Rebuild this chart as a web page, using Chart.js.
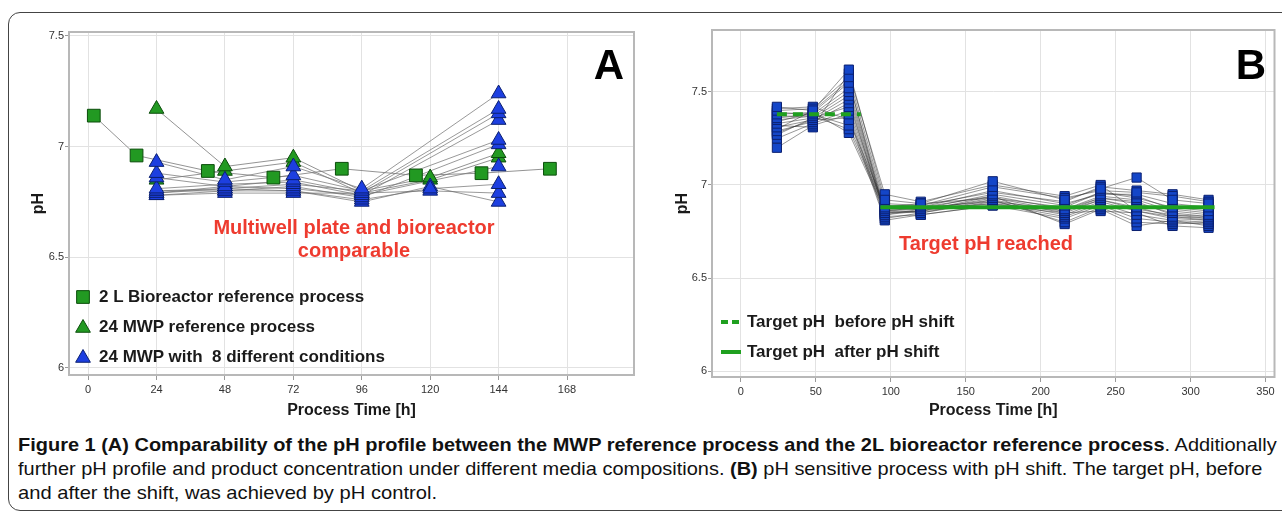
<!DOCTYPE html>
<html>
<head>
<meta charset="utf-8">
<script src="https://cdn.jsdelivr.net/npm/chart.js@4.4.1/dist/chart.umd.min.js"></script>
<style>
  html, body { margin: 0; padding: 0; background: #fff; }
  body { width: 1282px; height: 519px; position: relative; overflow: hidden; font-family: 'Liberation Sans', Arial, sans-serif; }
  #frame { position: absolute; left: 8px; top: 12px; width: 1290px; height: 499px; border: 1px solid #444; border-radius: 12px; box-sizing: border-box; }
  canvas { position: absolute; }
  #chartA { left: 20px; top: 20px; }
  #chartB { left: 660px; top: 20px; }
  .lbl { position: absolute; white-space: nowrap; transform: translateY(-50%); font-weight: bold; color: #1a1a1a; font-size: 17px; }
  .red { position: absolute; white-space: nowrap; transform: translate(-50%, -50%); font-weight: bold; color: #ee3b2f; font-size: 20px; }
  .big { position: absolute; transform: translate(-50%, -50%); font-weight: bold; font-size: 42px; color: #000; }
  .cap { position: absolute; left: 18px; white-space: nowrap; transform-origin: 0 50%; font-family: 'Liberation Sans Narrow', 'Liberation Sans', Arial, sans-serif; font-size: 19px; line-height: 22px; color: #111; }
</style>
</head>
<body>
<div id="frame"></div>
<canvas id="chartA" width="630" height="400"></canvas>
<canvas id="chartB" width="622" height="400"></canvas>

<div class="big" style="left:609px; top:65px">A</div>
<div class="big" style="left:1251px; top:65px">B</div>

<div class="red" style="left:354px; top:227px">Multiwell plate and bioreactor</div>
<div class="red" style="left:354px; top:250px">comparable</div>
<div class="red" style="left:986px; top:243px">Target pH reached</div>

<div class="lbl" style="left:99px; top:297px">2 L Bioreactor reference process</div>
<div class="lbl" style="left:99px; top:327px">24 MWP reference process</div>
<div class="lbl" style="left:99px; top:357px">24 MWP with&nbsp; 8 different conditions</div>
<div class="lbl" style="left:747px; top:322px">Target pH&nbsp; before pH shift</div>
<div class="lbl" style="left:747px; top:352px">Target pH&nbsp; after pH shift</div>

<div class="cap" id="cap1" style="top:434px"><b>Figure 1 (A) Comparability of the pH profile between the MWP reference process and the 2L bioreactor reference process</b>. Additionally</div>
<div class="cap" id="cap2" style="top:458px">further pH profile and product concentration under different media compositions. <b>(B)</b> pH sensitive process with pH shift. The target pH, before</div>
<div class="cap" id="cap3" style="top:482px">and after the shift, was achieved by pH control.</div>

<script>
//Panel A: pH en MWP y biorreactor 2 L
const timesA = [24, 48, 72, 96, 120, 144];
const bioreactorTime = [2, 17, 42, 65, 89, 115, 138, 162];
const bioreactorPH = [7.14, 6.96, 6.89, 6.86, 6.90, 6.87, 6.88, 6.90];
const mwpRefPH = [
    [7.17, 6.91, 6.95, 6.80, 6.86, 6.97],
    [6.85, 6.89, 6.93, 6.79, 6.85, 6.95]
];
const mwpCondPH = [
    [6.93, 6.85, 6.91, 6.81, null, 7.24],
    [6.88, 6.84, 6.87, 6.80, null, 7.17],
    [6.86, 6.82, 6.85, 6.79, null, 7.15],
    [6.81, 6.83, 6.84, 6.78, null, 7.12],
    [6.80, 6.81, 6.83, 6.80, null, 7.03],
    [6.80, 6.80, 6.82, 6.77, null, 7.01],
    [6.79, 6.82, 6.81, 6.78, null, 6.91],
    [6.78, 6.80, 6.80, 6.76, 6.81, 6.83],
    [6.78, 6.79, 6.79, 6.79, 6.80, 6.79],
    [6.79, 6.81, 6.80, 6.75, 6.82, 6.75]
];
const xTicksA = [0, 24, 48, 72, 96, 120, 144, 168];

//Panel B: proceso con cambio de pH
const timesB = [24, 48, 72, 96, 120, 168, 216, 240, 264, 288, 312];
const runsB = [
    [7.42, 7.40, 7.62, 6.92, 6.90, 7.02, 6.92, 6.98, 7.04, 6.92, 6.90],
    [7.40, 7.41, 7.58, 6.90, 6.89, 6.99, 6.93, 6.97, 6.96, 6.94, 6.91],
    [7.38, 7.39, 7.55, 6.88, 6.88, 6.97, 6.90, 6.95, 6.95, 6.90, 6.88],
    [7.36, 7.38, 7.52, 6.87, 6.87, 6.95, 6.89, 6.96, 6.93, 6.88, 6.86],
    [7.35, 7.37, 7.50, 6.86, 6.88, 6.94, 6.87, 6.94, 6.92, 6.86, 6.84],
    [7.33, 7.36, 7.48, 6.85, 6.86, 6.93, 6.86, 6.93, 6.90, 6.85, 6.83],
    [7.31, 7.35, 7.46, 6.84, 6.87, 6.92, 6.85, 6.92, 6.88, 6.83, 6.82],
    [7.29, 7.34, 7.44, 6.86, 6.85, 6.91, 6.84, 6.91, 6.86, 6.82, 6.81],
    [7.27, 7.36, 7.42, 6.85, 6.86, 6.90, 6.83, 6.90, 6.84, 6.81, 6.80],
    [7.25, 7.33, 7.40, 6.83, 6.84, 6.89, 6.82, 6.89, 6.82, 6.80, 6.79],
    [7.20, 7.32, 7.38, 6.82, 6.85, 6.92, 6.80, 6.88, 6.80, 6.79, 6.80],
    [7.41, 7.42, 7.35, 6.89, 6.89, 6.96, 6.91, 6.99, 6.97, 6.95, 6.92],
    [7.39, 7.38, 7.32, 6.88, 6.90, 6.93, 6.88, 6.96, 6.94, 6.87, 6.85],
    [7.37, 7.37, 7.30, 6.87, 6.88, 6.91, 6.87, 6.93, 6.91, 6.84, 6.83],
    [7.34, 7.39, 7.28, 6.86, 6.87, 6.90, 6.86, 6.92, 6.87, 6.84, 6.82],
    [7.32, 7.31, 7.60, 6.95, 6.91, 7.00, 6.94, 7.00, 6.86, 6.83, 6.81],
    [7.30, 7.40, 7.56, 6.84, 6.86, 6.94, 6.79, 6.87, 6.78, 6.81, 6.78],
    [7.28, 7.35, 7.36, 6.81, 6.84, 6.89, 6.85, 6.86, 6.85, 6.78, 6.77]
];
const targetBeforeTime = [24, 80];
const targetBeforePH = 7.38;
const targetAfterTime = [93, 316];
const targetAfterPH = 6.88;
const xTicksB = [0, 50, 100, 150, 200, 250, 300, 350];

const yTicks = [6, 6.5, 7, 7.5];

//Colores
const verde = '#229922';
const verdeBorde = '#0b4d0b';
const azulA = '#1d3fe0';
const azulB = '#1446c8';
const azulBorde = '#0b2070';
const verdeMeta = '#1fa01f';
const fuente = "'Liberation Sans', Arial, sans-serif";

Chart.defaults.font.family = fuente;
Chart.defaults.animation = false;

function aPuntos(tiempos, valores) {
    const pts = [];
    tiempos.forEach((t, i) => {
        if (valores[i] !== null) pts.push({ x: t, y: valores[i] });
    });
    return pts;
}

function linea(data, color) {
    return { data, showLine: true, borderColor: color, borderWidth: 1, pointRadius: 0, order: 4 };
}

function marcas(data, estilo, radio, fondo, borde, orden) {
    return {
        data, showLine: false, pointStyle: estilo, pointRadius: radio, pointHoverRadius: radio,
        backgroundColor: fondo, borderColor: borde, borderWidth: 1, order: orden
    };
}

function escalas(xmin, xmax, ymin, ymax, xTicks, anchoY, altoX, padTituloY) {
    return {
        x: {
            type: 'linear', min: xmin, max: xmax,
            afterBuildTicks: (s) => { s.ticks = xTicks.map(v => ({ value: v })); },
            afterFit: (s) => { s.height = altoX; },
            grid: { color: '#e2e2e2', tickColor: '#999', tickLength: 5 },
            border: { display: false },
            ticks: { autoSkip: false, maxRotation: 0, padding: 3, color: '#333', font: { size: 11 }, callback: v => String(v) },
            title: { display: true, text: 'Process Time [h]', color: '#1a1a1a', font: { size: 16, weight: 'bold' }, padding: { top: 0, bottom: 0 } }
        },
        y: {
            type: 'linear', min: ymin, max: ymax,
            afterBuildTicks: (s) => { s.ticks = yTicks.map(v => ({ value: v })); },
            afterFit: (s) => { s.width = anchoY; },
            grid: { color: '#e2e2e2', tickColor: '#999', tickLength: 4 },
            border: { display: false },
            ticks: { autoSkip: false, padding: 1, color: '#333', font: { size: 11 }, callback: v => String(v) },
            title: { display: true, text: 'pH', color: '#1a1a1a', font: { size: 16, weight: 'bold' }, padding: { top: padTituloY, bottom: 0 } }
        }
    };
}

//Marco gris del area del grafico
const marco = {
    id: 'marco',
    beforeDatasetsDraw(chart) {
        const { ctx, chartArea: a } = chart;
        ctx.save();
        ctx.strokeStyle = '#b8b8b8';
        ctx.lineWidth = 2;
        ctx.strokeRect(a.left, a.top, a.width, a.height);
        ctx.restore();
    }
};

//Simbolos de la leyenda A
const leyendaA = {
    id: 'leyendaA',
    afterDraw(chart) {
        const ctx = chart.ctx;
        const items = [
            { estilo: 'rect', r: 9, fondo: verde, borde: verdeBorde, x: 63, y: 277 },
            { estilo: 'triangle', r: 8.5, fondo: verde, borde: verdeBorde, x: 63, y: 308 },
            { estilo: 'triangle', r: 8.5, fondo: azulA, borde: azulBorde, x: 63, y: 338 }
        ];
        ctx.save();
        items.forEach(it => {
            ctx.fillStyle = it.fondo;
            ctx.strokeStyle = it.borde;
            ctx.lineWidth = 1;
            Chart.helpers.drawPoint(ctx, { pointStyle: it.estilo, radius: it.r, borderWidth: 1, rotation: 0 }, it.x, it.y);
        });
        ctx.restore();
    }
};

//Simbolos de la leyenda B
const leyendaB = {
    id: 'leyendaB',
    afterDraw(chart) {
        const ctx = chart.ctx;
        ctx.save();
        ctx.strokeStyle = verdeMeta;
        ctx.lineWidth = 4;
        ctx.setLineDash([7, 4]);
        ctx.beginPath(); ctx.moveTo(61, 302); ctx.lineTo(81, 302); ctx.stroke();
        ctx.setLineDash([]);
        ctx.beginPath(); ctx.moveTo(61, 332); ctx.lineTo(81, 332); ctx.stroke();
        ctx.restore();
    }
};

//Grafico A
const datosA = [];
datosA.push(linea(aPuntos(bioreactorTime, bioreactorPH), 'rgba(120,120,120,0.8)'));
mwpRefPH.forEach(s => datosA.push(linea(aPuntos(timesA, s), 'rgba(120,120,120,0.8)')));
mwpCondPH.forEach(s => datosA.push(linea(aPuntos(timesA, s), 'rgba(110,110,110,0.7)')));
mwpRefPH.forEach(s => datosA.push(marcas(aPuntos(timesA, s), 'triangle', 8.5, verde, verdeBorde, 3)));
mwpCondPH.forEach(s => datosA.push(marcas(aPuntos(timesA, s), 'triangle', 8.5, azulA, azulBorde, 2)));
datosA.push(marcas(aPuntos(bioreactorTime, bioreactorPH), 'rect', 9, verde, verdeBorde, 1));

new Chart(document.getElementById('chartA'), {
    type: 'scatter',
    data: { datasets: datosA },
    options: {
        responsive: false,
        devicePixelRatio: 1,
        layout: { padding: { left: 0, right: 16, top: 12, bottom: 0 } },
        plugins: { legend: { display: false }, tooltip: { enabled: false } },
        scales: escalas(-6.7, 191.5, 5.968, 7.518, xTicksA, 49, 45, 9)
    },
    plugins: [marco, leyendaA]
});

//Grafico B
const datosB = [];
runsB.forEach(s => datosB.push(linea(aPuntos(timesB, s), 'rgba(50,50,50,0.5)')));
runsB.forEach(s => datosB.push(marcas(aPuntos(timesB, s), 'rect', 6.5, azulB, azulBorde, 2)));
datosB.push({
    data: targetBeforeTime.map(t => ({ x: t, y: targetBeforePH })),
    showLine: true, borderColor: verdeMeta, borderWidth: 4, borderDash: [10, 6], pointRadius: 0, order: 0
});
datosB.push({
    data: targetAfterTime.map(t => ({ x: t, y: targetAfterPH })),
    showLine: true, borderColor: verdeMeta, borderWidth: 4, pointRadius: 0, order: 0
});

new Chart(document.getElementById('chartB'), {
    type: 'scatter',
    data: { datasets: datosB },
    options: {
        responsive: false,
        devicePixelRatio: 1,
        layout: { padding: { left: 0, right: 7, top: 10, bottom: 0 } },
        plugins: { legend: { display: false }, tooltip: { enabled: false } },
        scales: escalas(-19.3, 356, 5.968, 7.833, xTicksB, 52, 43, 13)
    },
    plugins: [marco, leyendaB]
});

//Ajustar ancho del pie de figura
const anchos = { cap1: 1259, cap2: 1244, cap3: 419 };
Object.keys(anchos).forEach(id => {
    const el = document.getElementById(id);
    const w = el.scrollWidth;
    el.style.transform = 'scaleX(' + (anchos[id] / w) + ')';
});
</script>
</body>
</html>
